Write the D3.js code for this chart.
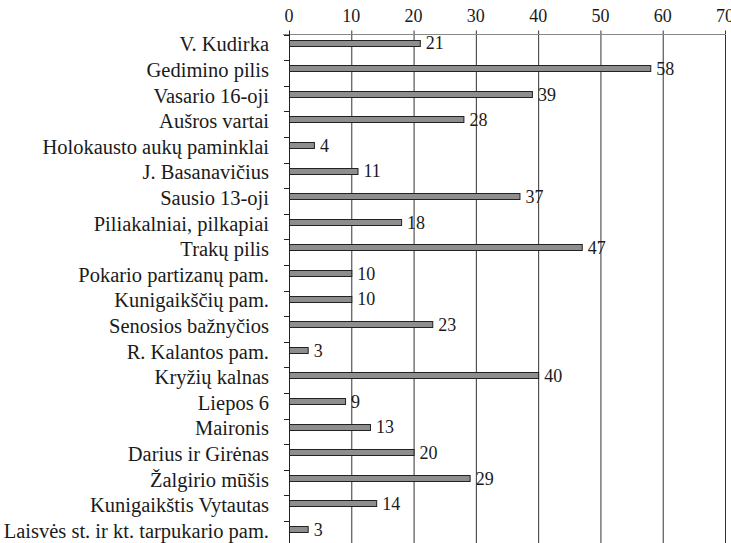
<!DOCTYPE html>
<html>
<head>
<meta charset="utf-8">
<script src="https://cdn.jsdelivr.net/npm/d3@7"></script>
<style>
  body { margin: 0; background: #fff; }
  svg text { font-family: "Liberation Serif", "DejaVu Serif", serif; fill: #1a1a1a; }
</style>
</head>
<body>
<svg id="chart" width="731" height="543"></svg>
<script>
var categories = ["V. Kudirka", "Gedimino pilis", "Vasario 16-oji", "Aušros vartai",
  "Holokausto aukų paminklai", "J. Basanavičius", "Sausio 13-oji", "Piliakalniai, pilkapiai",
  "Trakų pilis", "Pokario partizanų pam.", "Kunigaikščių pam.", "Senosios bažnyčios",
  "R. Kalantos pam.", "Kryžių kalnas", "Liepos 6", "Maironis", "Darius ir Girėnas",
  "Žalgirio mūšis", "Kunigaikštis Vytautas", "Laisvės st. ir kt. tarpukario pam."];
var values = [21, 58, 39, 28, 4, 11, 37, 18, 47, 10, 10, 23, 3, 40, 9, 13, 20, 29, 14, 3];
var xTicks = [0, 10, 20, 30, 40, 50, 60, 70];

var svg = d3.select("#chart");
var axisY = 34.5, bandH = 25.6;

var x = d3.scaleLinear().domain([0, 70]).range([289, 725]);
var y = d3.scaleBand().domain(categories).range([axisY, axisY + bandH * categories.length]).padding(0);

// gridlines
svg.append("g").selectAll("line")
  .data(xTicks.slice(1))
  .enter().append("line")
  .attr("x1", function(d) { return x(d) + 0.5; })
  .attr("x2", function(d) { return x(d) + 0.5; })
  .attr("y1", axisY - 4)
  .attr("y2", 543)
  .attr("stroke", "#333")
  .attr("stroke-width", 1);

// top axis line
svg.append("line")
  .attr("x1", 283).attr("x2", x(70) + 1)
  .attr("y1", axisY).attr("y2", axisY)
  .attr("stroke", "#888").attr("stroke-width", 1.2);

// tick labels
svg.append("g").selectAll("text")
  .data(xTicks)
  .enter().append("text")
  .attr("x", function(d) { return x(d); })
  .attr("y", 22)
  .attr("text-anchor", "middle")
  .attr("font-size", 18)
  .text(function(d) { return d; });

// y axis + category ticks
svg.append("line")
  .attr("x1", x(0) + 0.5).attr("x2", x(0) + 0.5)
  .attr("y1", axisY - 4).attr("y2", 543)
  .attr("stroke", "#222").attr("stroke-width", 1);

svg.append("g").selectAll("line")
  .data(categories)
  .enter().append("line")
  .attr("x1", x(0) - 5).attr("x2", x(0))
  .attr("y1", function(d) { return Math.round(y(d)) + 0.5; })
  .attr("y2", function(d) { return Math.round(y(d)) + 0.5; })
  .attr("stroke", "#222");

// bars
svg.append("g").selectAll("rect")
  .data(values)
  .enter().append("rect")
  .attr("x", x(0) + 0.5)
  .attr("y", function(d, i) { return Math.round(y(categories[i]) + 5) + 0.5; })
  .attr("width", function(d) { return x(d) - x(0); })
  .attr("height", 6)
  .attr("fill", "#8e8e8e")
  .attr("stroke", "#222")
  .attr("stroke-width", 1);

// value labels
svg.append("g").selectAll("text")
  .data(values)
  .enter().append("text")
  .attr("x", function(d) { return x(d) + 6; })
  .attr("y", function(d, i) { return y(categories[i]) + 8; })
  .attr("dy", "0.38em")
  .attr("font-size", 18)
  .text(function(d) { return d; });

// category labels
svg.append("g").selectAll("text")
  .data(categories)
  .enter().append("text")
  .attr("x", 269)
  .attr("y", function(d) { return y(d) + bandH / 2 + 4; })
  .attr("text-anchor", "end")
  .attr("font-size", 20.5)
  .text(function(d) { return d; });
</script>
</body>
</html>
